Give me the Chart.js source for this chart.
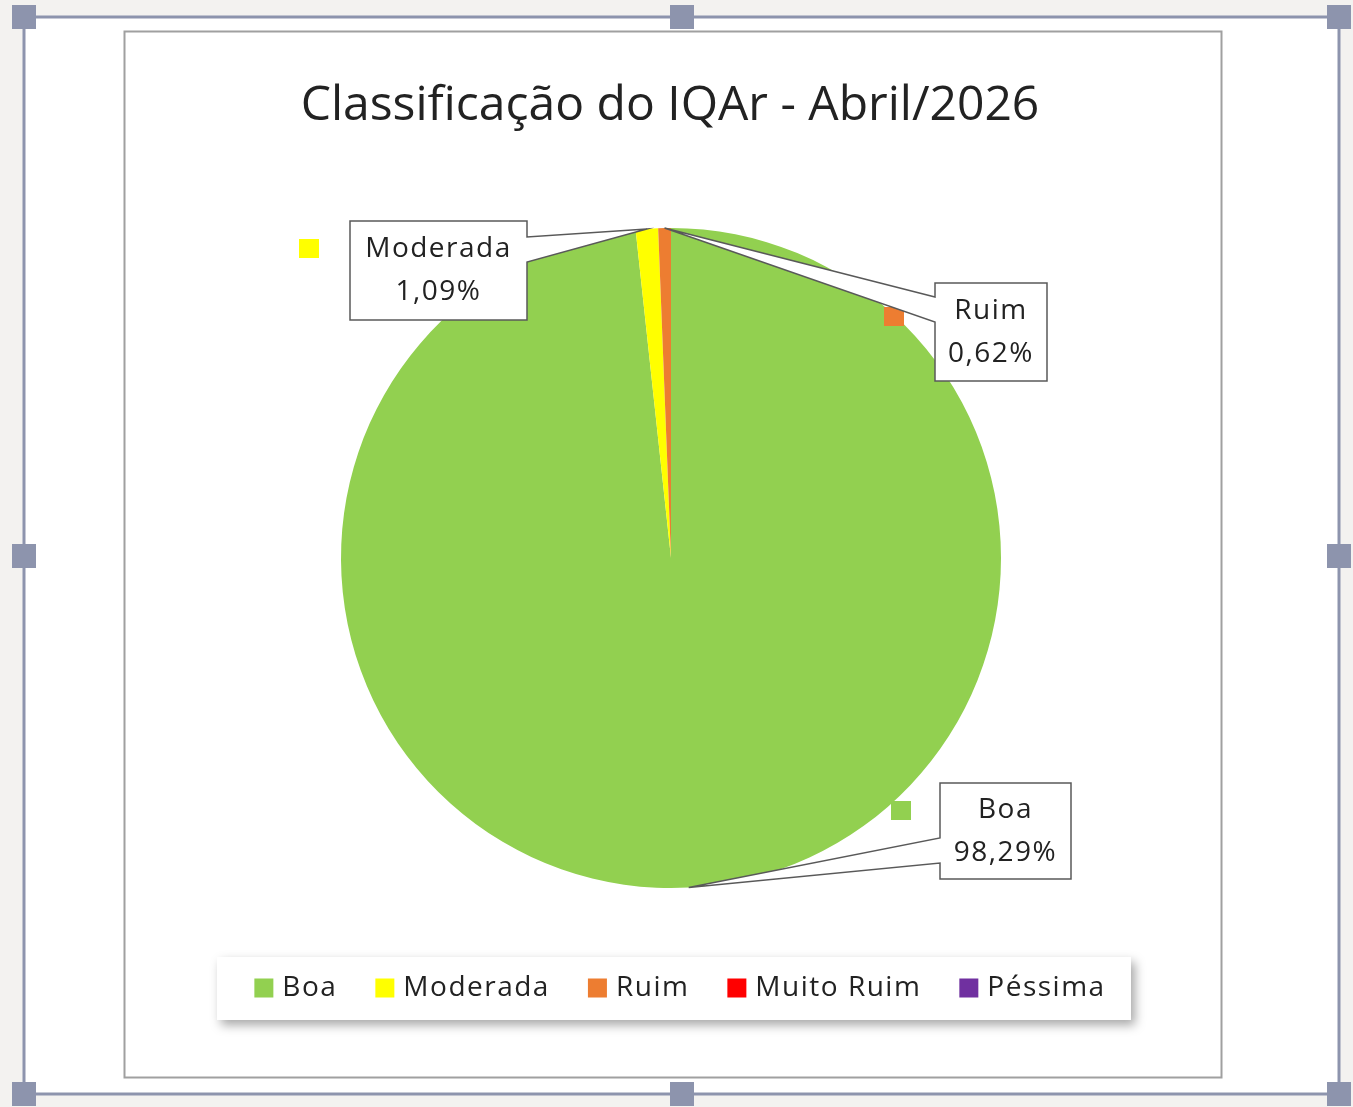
<!DOCTYPE html>
<html lang="pt-BR">
<head>
<meta charset="utf-8">
<title>Classificação do IQAr - Abril/2026</title>
<script src="https://cdn.jsdelivr.net/npm/chart.js@4.4.1/dist/chart.umd.min.js"></script>
<style>
    html, body { margin: 0; padding: 0; background: #f3f2f0; overflow: hidden; }
    #iqarChart { position: absolute; left: 0; top: 0; }
</style>
</head>
<body>
<canvas id="iqarChart" width="1353" height="1107"></canvas>
<script>
const chartTitle = 'Classificação do IQAr - Abril/2026';
const categories = ['Boa', 'Moderada', 'Ruim', 'Muito Ruim', 'Péssima'];
const percentages = [98.29, 1.09, 0.62, 0, 0];
const sliceColors = ['#92d050', '#ffff00', '#ed7d31', '#ff0000', '#7030a0'];

const FONT = '"Open Sans", "DejaVu Sans", sans-serif';
const TEXT_COLOR = '#222222';

// where each data label box sits (index into categories)
const calloutBoxes = {
    0: { x: 940, y: 783, w: 131, h: 96, side: 'left', base: [838, 863], key: [891, 801] },
    1: { x: 350, y: 221, w: 177, h: 99, side: 'right', base: [237, 262], key: [299, 239] },
    2: { x: 935, y: 283, w: 112, h: 98, side: 'left', base: [297, 322], key: [884, 307] }
};

function formatPct(v) {
    return v.toFixed(2).replace('.', ',') + '%';
}

function drawHandle(ctx, cx, cy) {
    ctx.fillStyle = '#8d94ad';
    ctx.fillRect(cx - 12, cy - 12, 24, 24);
}

const frameBackground = {
    id: 'frameBackground',
    beforeDraw(chart) {
        const ctx = chart.ctx;
        ctx.save();
        ctx.fillStyle = '#f3f2f0';
        ctx.fillRect(0, 0, chart.width, chart.height);

        // selection frame
        ctx.fillStyle = '#ffffff';
        ctx.fillRect(24, 17, 1315, 1077);
        ctx.strokeStyle = '#8d94ad';
        ctx.lineWidth = 3;
        ctx.strokeRect(24, 17, 1315, 1077);

        // chart area border
        ctx.strokeStyle = '#a0a0a0';
        ctx.lineWidth = 2;
        ctx.strokeRect(124.5, 31.5, 1097, 1046);
        ctx.restore();
    },
    afterDraw(chart) {
        const ctx = chart.ctx;
        ctx.save();
        [[24, 17], [682, 17], [1339, 17], [24, 556], [1339, 556], [24, 1094], [682, 1094], [1339, 1094]]
            .forEach(p => drawHandle(ctx, p[0], p[1]));
        ctx.restore();
    }
};

const titleAndLegend = {
    id: 'titleAndLegend',
    afterDraw(chart) {
        const ctx = chart.ctx;
        ctx.save();

        ctx.fillStyle = TEXT_COLOR;
        ctx.font = '48px ' + FONT;
        ctx.textAlign = 'center';
        ctx.textBaseline = 'middle';
        ctx.fillText(chartTitle, 670, 106);

        // legend box with shadow
        ctx.shadowColor = 'rgba(0, 0, 0, 0.35)';
        ctx.shadowBlur = 10;
        ctx.shadowOffsetX = 4;
        ctx.shadowOffsetY = 5;
        ctx.fillStyle = '#ffffff';
        ctx.fillRect(217, 957, 914, 63);
        ctx.shadowColor = 'transparent';

        ctx.font = '28px ' + FONT;
        ctx.letterSpacing = '1.5px';
        ctx.textAlign = 'left';
        const sq = 19, gapText = 9, gapItem = 38;
        const widths = categories.map(c => ctx.measureText(c).width);
        const total = widths.reduce((s, w) => s + sq + gapText + w, 0) + gapItem * (categories.length - 1);
        let x = 680 - total / 2;
        const cy = 988;
        categories.forEach((c, i) => {
            ctx.fillStyle = sliceColors[i];
            ctx.fillRect(x, cy - sq / 2, sq, sq);
            ctx.fillStyle = TEXT_COLOR;
            ctx.fillText(c, x + sq + gapText, cy);
            x += sq + gapText + widths[i] + gapItem;
        });
        ctx.restore();
    }
};

const calloutLabels = {
    id: 'calloutLabels',
    afterDatasetsDraw(chart) {
        const ctx = chart.ctx;
        const meta = chart.getDatasetMeta(0);
        ctx.save();
        meta.data.forEach((arc, i) => {
            const box = calloutBoxes[i];
            if (!box || percentages[i] <= 0) return;
            const mid = (arc.startAngle + arc.endAngle) / 2;
            const tipX = arc.x + Math.cos(mid) * arc.outerRadius;
            const tipY = arc.y + Math.sin(mid) * arc.outerRadius;

            // legend key next to the label
            ctx.fillStyle = sliceColors[i];
            ctx.fillRect(box.key[0], box.key[1], 20, 19);

            const l = box.x, t = box.y, r = box.x + box.w, b = box.y + box.h;
            ctx.beginPath();
            if (box.side === 'right') {
                ctx.moveTo(l, t);
                ctx.lineTo(r, t);
                ctx.lineTo(r, box.base[0]);
                ctx.lineTo(tipX, tipY);
                ctx.lineTo(r, box.base[1]);
                ctx.lineTo(r, b);
                ctx.lineTo(l, b);
            } else {
                ctx.moveTo(r, t);
                ctx.lineTo(r, b);
                ctx.lineTo(l, b);
                ctx.lineTo(l, box.base[1]);
                ctx.lineTo(tipX, tipY);
                ctx.lineTo(l, box.base[0]);
                ctx.lineTo(l, t);
            }
            ctx.closePath();
            ctx.fillStyle = '#ffffff';
            ctx.fill();
            ctx.strokeStyle = '#595959';
            ctx.lineWidth = 1.5;
            ctx.lineJoin = 'miter';
            ctx.stroke();

            ctx.fillStyle = TEXT_COLOR;
            ctx.font = '28px ' + FONT;
            ctx.letterSpacing = '1.5px';
            ctx.textAlign = 'center';
            ctx.textBaseline = 'middle';
            const cx = l + box.w / 2, cy = t + box.h / 2;
            ctx.fillText(categories[i], cx, cy - 21);
            ctx.fillText(formatPct(percentages[i]), cx, cy + 22);
            ctx.letterSpacing = '0px';
        });
        ctx.restore();
    }
};

new Chart(document.getElementById('iqarChart'), {
    type: 'pie',
    data: {
        labels: categories,
        datasets: [{
            data: percentages,
            backgroundColor: sliceColors,
            borderWidth: 0,
            hoverOffset: 0
        }]
    },
    options: {
        responsive: false,
        animation: false,
        events: [],
        layout: {
            padding: { left: 341, right: 352, top: 228, bottom: 219 }
        },
        plugins: {
            legend: { display: false },
            title: { display: false },
            tooltip: { enabled: false }
        }
    },
    plugins: [frameBackground, calloutLabels, titleAndLegend]
});
</script>
</body>
</html>
